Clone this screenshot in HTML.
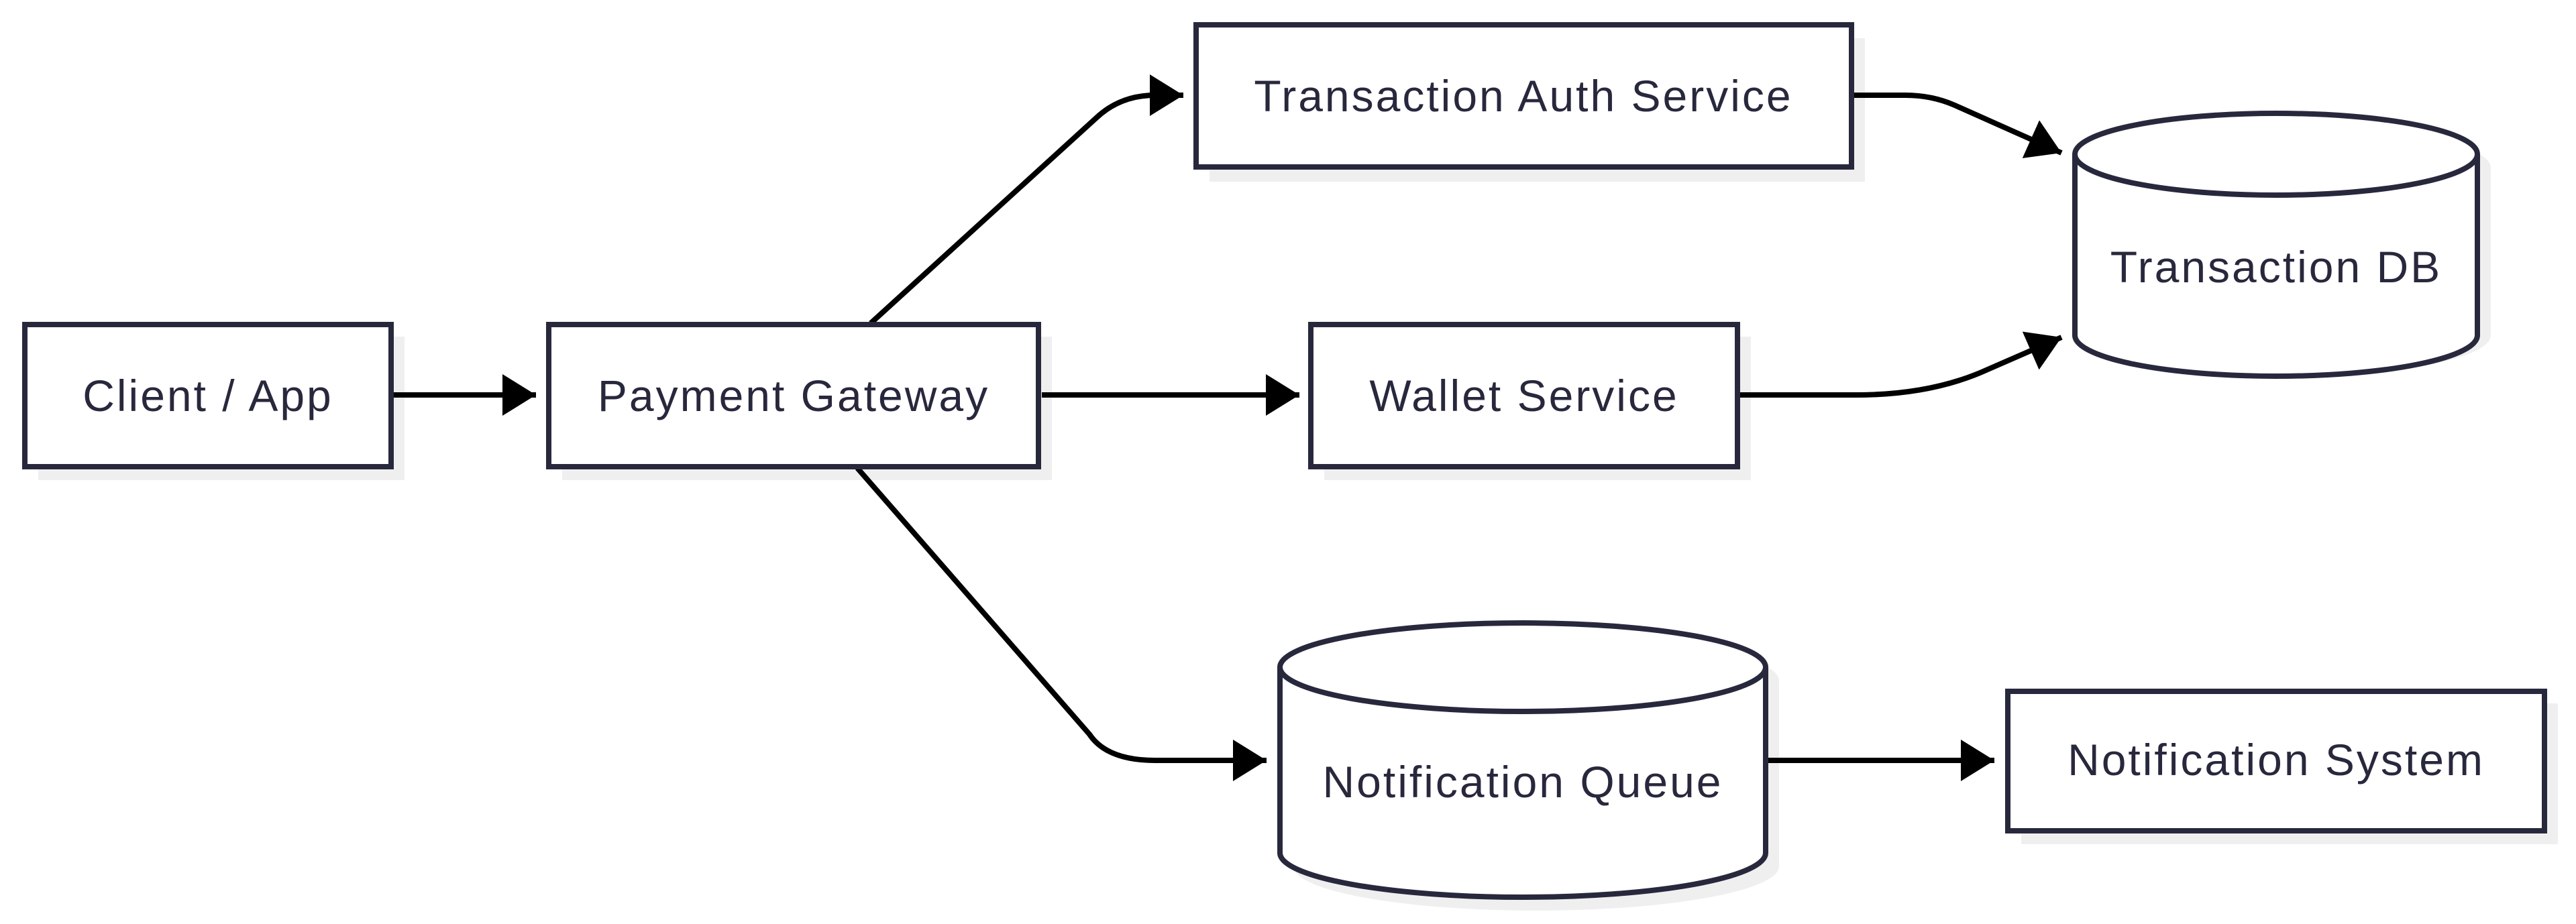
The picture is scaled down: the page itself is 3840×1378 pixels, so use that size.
<!DOCTYPE html>
<html><head><meta charset="utf-8"><style>
html,body{margin:0;padding:0;background:#fff;}
svg{display:block;}
text{font-family:"Liberation Sans",sans-serif;font-size:66px;letter-spacing:3px;fill:#28283d;text-anchor:middle;dominant-baseline:central;}
</style></head><body>
<svg width="3840" height="1378" viewBox="0 0 3840 1378" xmlns="http://www.w3.org/2000/svg">
<defs>
<marker id="a" markerUnits="userSpaceOnUse" markerWidth="52" markerHeight="62" refX="50" refY="31" orient="auto">
<path d="M0,0 L50,31 L0,62 Z" fill="#000"/>
</marker>
</defs>
<g fill="#efefef">
<rect x="57" y="502" width="546" height="214"/>
<rect x="838" y="502" width="730" height="214"/>
<rect x="1803" y="57" width="977" height="214"/>
<rect x="1974" y="502" width="636" height="214"/>
<rect x="3013" y="1049" width="800" height="210"/>
<path d="M3113,250 a300,61 0 0 1 600,0 v250 a300,61 0 0 1 -600,0 Z"/>
<path d="M1928,1015 a362,66 0 0 1 724,0 v277 a362,66 0 0 1 -724,0 Z"/>
</g>
<g fill="none" stroke="#000" stroke-width="8">
<path d="M587,589 L799,589" marker-end="url(#a)"/>
<path d="M1298,482 L1634,176 Q1670,142 1722,142 L1764,142" marker-end="url(#a)"/>
<path d="M1553,589 L1937,589" marker-end="url(#a)"/>
<path d="M1278,698 L1624,1095 Q1650,1134 1722,1134 L1888,1134" marker-end="url(#a)"/>
<path d="M2633,1134 L2973,1134" marker-end="url(#a)"/>
<path d="M2760,142 L2840,142 Q2880,142 2914,157 L3073,228" marker-end="url(#a)"/>
<path d="M2590,589 L2767,589 Q2880,589 2963,551 L3073,503" marker-end="url(#a)"/>
</g>
<g fill="#fff" stroke="#28283d" stroke-width="8">
<rect x="37" y="484" width="546" height="212"/>
<rect x="818" y="484" width="730" height="212"/>
<rect x="1783" y="37" width="977" height="212"/>
<rect x="1954" y="484" width="636" height="212"/>
<rect x="2993" y="1031" width="800" height="208"/>
<path d="M3093,230 a300,61 0 0 1 600,0 v270 a300,61 0 0 1 -600,0 Z"/>
<path d="M3093,230 a300,61 0 0 0 600,0"/>
<path d="M1908,995 a362,66 0 0 1 724,0 v277 a362,66 0 0 1 -724,0 Z"/>
<path d="M1908,995 a362,66 0 0 0 724,0"/>
</g>
<text x="310" y="590">Client / App</text>
<text x="1183" y="590">Payment Gateway</text>
<text x="2271" y="143">Transaction Auth Service</text>
<text x="2272" y="590">Wallet Service</text>
<text x="3393" y="1133">Notification System</text>
<text x="3393" y="398">Transaction DB</text>
<text x="2270" y="1166">Notification Queue</text>
</svg>
</body></html>
